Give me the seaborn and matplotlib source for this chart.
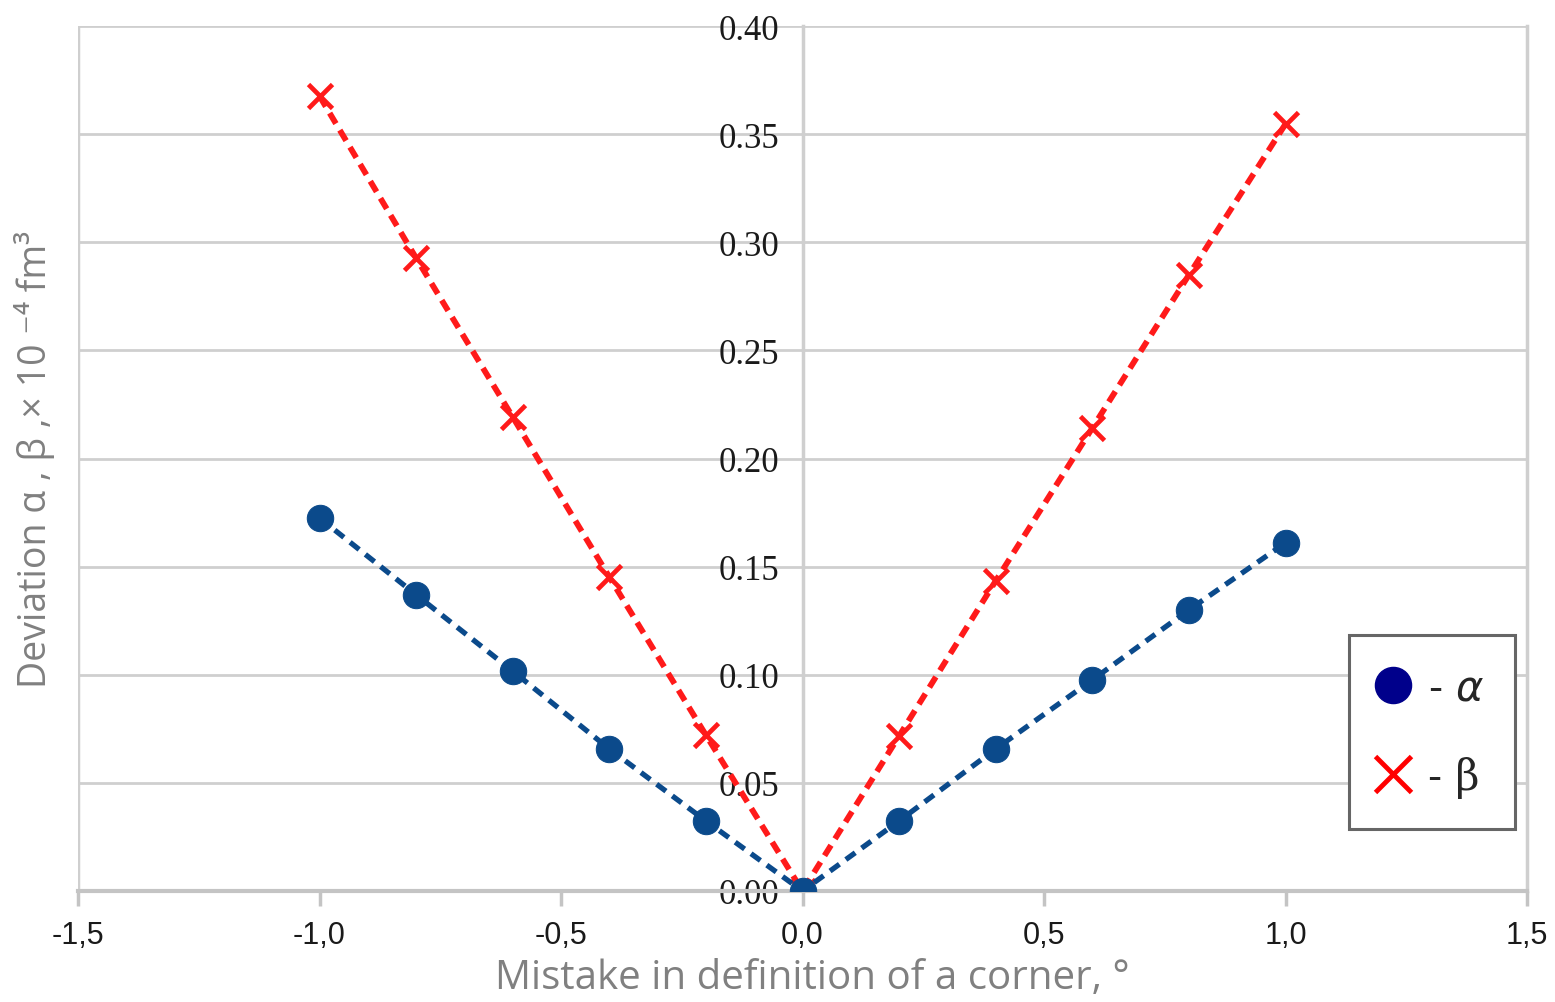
import numpy as np
import pandas as pd
import matplotlib
matplotlib.use("Agg")
import matplotlib.pyplot as plt
import seaborn as sns
from matplotlib.lines import Line2D
from matplotlib.font_manager import FontProperties

# ---- data ----
x_vals = [-1.0, -0.8, -0.6, -0.4, -0.2, 0.0, 0.2, 0.4, 0.6, 0.8, 1.0]
alpha_vals = [0.1725, 0.137, 0.1017, 0.0657, 0.0324, 0.0, 0.0324, 0.0657, 0.0976, 0.130, 0.161]
beta_vals = [0.3676, 0.2927, 0.2192, 0.1452, 0.0721, 0.0, 0.0717, 0.1434, 0.2141, 0.2849, 0.3547]

x_ticks = [-1.5, -1.0, -0.5, 0.0, 0.5, 1.0, 1.5]
x_ticklabels = ["-1,5", "-1,0", "-0,5", "0,0", "0,5", "1,0", "1,5"]
y_ticks = [0.0, 0.05, 0.10, 0.15, 0.20, 0.25, 0.30, 0.35, 0.40]
y_ticklabels = ["0.00", "0.05", "0.10", "0.15", "0.20", "0.25", "0.30", "0.35", "0.40"]

xlabel = "Mistake in definition of a corner, °"
ylabel = "Deviation α , β ,× 10 ⁻⁴ fm³"
legend_labels = ["- $\\alpha$", "- β"]

df_a = pd.DataFrame({"x": x_vals, "y": alpha_vals})
df_b = pd.DataFrame({"x": x_vals, "y": beta_vals})

sns.set_theme(style="white")
plt.rcParams["font.family"] = ["Liberation Sans", "DejaVu Sans"]

BLUE = "#0b4a8b"
RED = "#ff1a1a"
GRID = "#cfcfcf"

fig = plt.figure(figsize=(15.55, 10.03), dpi=100)
ax = fig.add_axes([78 / 1555, 1 - 892 / 1003, (1527 - 78) / 1555, (892 - 27) / 1003])

# spines (position first: it resets the ticks)
ax.spines["left"].set_position(("data", 0))
ax.spines["top"].set_visible(False)
ax.spines["right"].set_color(GRID)
ax.spines["right"].set_linewidth(2.5)
ax.spines["left"].set_color(GRID)
ax.spines["left"].set_linewidth(2.5)
ax.spines["left"].set_zorder(1)
ax.spines["bottom"].set_color("#c4c4c4")
ax.spines["bottom"].set_linewidth(3.0)

sns.lineplot(data=df_b, x="x", y="y", ax=ax, color=RED, linestyle=(0, (2.1, 1.3)),
             linewidth=4.2, marker="x", markersize=17, markeredgewidth=3.4,
             markeredgecolor=RED, zorder=3)
sns.lineplot(data=df_a, x="x", y="y", ax=ax, color=BLUE, linestyle=(0, (2.2, 1.5)),
             linewidth=3.8, marker="o", markersize=19, markeredgecolor=BLUE,
             markerfacecolor=BLUE, zorder=4)

ax.set_xlim(-1.5, 1.5)
ax.set_ylim(0, 0.40)

ax.tick_params(axis="x", bottom=True, length=11, width=2.5, color="#c4c4c4", pad=10,
               labelsize=22, labelcolor="#1a1a1a")
ax.tick_params(axis="y", left=False, length=0, pad=17, labelsize=24, labelcolor="#1a1a1a")

ax.set_xticks(x_ticks)
ax.set_xticklabels(x_ticklabels, fontproperties=FontProperties(family="Liberation Sans", size=22),
                   color="#1a1a1a")
ax.set_yticks(y_ticks)
ax.set_yticklabels(y_ticklabels, fontproperties=FontProperties(family="Liberation Serif", size=25),
                   color="#1a1a1a")

# grid
ax.yaxis.grid(True, color=GRID, linewidth=2.0)
ax.xaxis.grid(False)
ax.axvline(-1.5, color=GRID, linewidth=2.5, zorder=1)

ax.set_xlabel(xlabel, fontsize=29, color="#808080", family=["Open Sans", "DejaVu Sans"], labelpad=5)
ax.xaxis.label.set_x(0.507)
ax.set_ylabel(ylabel, fontsize=27, color="#808080", family=["Open Sans", "DejaVu Sans"])
ax.yaxis.set_label_coords(-0.016, 0.5)

# legend
handles = [
    Line2D([], [], linestyle="none", marker="o", markersize=26, color="#00008b"),
    Line2D([], [], linestyle="none", marker="x", markersize=26, markeredgewidth=3.5, color="#ff0000"),
]
leg = ax.legend(handles, legend_labels, loc="upper left", bbox_to_anchor=(0.877, 0.296),
                frameon=True, fancybox=False, framealpha=1, edgecolor="#666666",
                handlelength=0.6, handletextpad=0.55, labelspacing=1.14,
                borderpad=0.75, borderaxespad=0,
                prop={"family": ["DejaVu Serif"], "size": 30})
leg.get_frame().set_linewidth(2.2)

fig.savefig("out.png", dpi=100, facecolor="white")
